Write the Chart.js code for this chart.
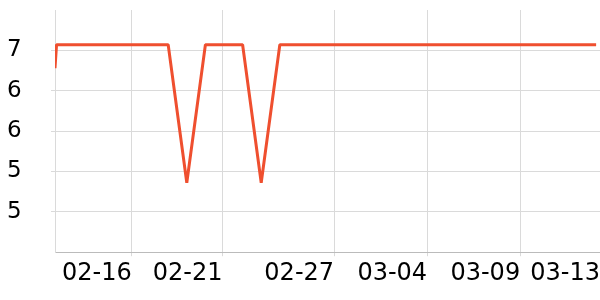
<!DOCTYPE html>
<html>
<head>
<meta charset="utf-8">
<script src="https://cdn.jsdelivr.net/npm/chart.js@4/dist/chart.umd.min.js"></script>
<style>
  html, body { margin: 0; padding: 0; background: #fff; }
  #wrap { width: 600px; height: 300px; }
</style>
</head>
<body>
<div id="wrap"><canvas id="rateChart"></canvas></div>
<script>
// timestamps of the samples (MM-DD HH:mm) and their values
const times = [
  '02-12 00:00', '02-12 02:00', '02-13 02:00', '02-14 02:00', '02-15 02:00',
  '02-16 02:00', '02-17 02:00', '02-18 02:00', '02-19 02:00', '02-20 02:00',
  '02-21 02:00', '02-22 02:00', '02-23 02:00', '02-24 02:00', '02-25 02:00',
  '02-26 02:00', '02-27 02:00', '02-28 02:00', '03-01 02:00', '03-02 02:00',
  '03-03 02:00', '03-04 02:00', '03-05 02:00', '03-06 02:00', '03-07 02:00',
  '03-08 02:00', '03-09 02:00', '03-10 02:00', '03-11 02:00', '03-12 02:00',
  '03-13 02:00'
];
const values = [
  6.78, 7.07, 7.07, 7.07, 7.07,
  7.07, 7.07, 7.07, 5.36, 7.07,
  7.07, 7.07, 5.36, 7.07, 7.07,
  7.07, 7.07, 7.07, 7.07, 7.07,
  7.07, 7.07, 7.07, 7.07, 7.07,
  7.07, 7.07, 7.07, 7.07, 7.07,
  7.07
];

// x axis ticks (the last one sits at the right end of the axis)
const xTickTimes = ['02-16 03:00', '02-21 00:00', '02-27 00:00', '03-04 00:00', '03-09 00:00', '03-13 07:00'];
const xStart = '02-12 00:00';
const xEnd = '03-13 07:00';

// y axis
const yTicks = [5, 5.5, 6, 6.5, 7];
const yMin = 4.5;
const yMax = 7.5;

// days since 02-12 00:00 (February has 28 days here)
function toDays(t) {
  const [md, hm] = t.split(' ');
  const [m, d] = md.split('-').map(Number);
  const [h, mi] = hm.split(':').map(Number);
  const day = (m === 3 ? 28 : 0) + d;
  return day - 12 + (h + mi / 60) / 24;
}

const points = times.map((t, i) => ({ x: toDays(t), y: values[i] }));
const xTickPos = xTickTimes.map(toDays);

new Chart(document.getElementById('rateChart').getContext('2d'), {
  type: 'line',
  data: {
    datasets: [{
      data: points,
      borderColor: '#ef4f2f',
      borderWidth: 3,
      borderJoinStyle: 'bevel',
      pointRadius: 0,
      tension: 0,
      fill: false
    }]
  },
  options: {
    responsive: true,
    maintainAspectRatio: false,
    animation: false,
    layout: { padding: { left: 7, top: 10, right: 0, bottom: 9 } },
    plugins: {
      legend: { display: false },
      tooltip: { enabled: false }
    },
    scales: {
      x: {
        type: 'linear',
        min: toDays(xStart),
        max: toDays(xEnd),
        afterBuildTicks: scale => {
          scale.ticks = xTickPos.map(v => ({ value: v }));
        },
        afterFit: scale => {
          scale.paddingLeft = 0;
          scale.paddingRight = 0;
        },
        grid: { color: '#dadada', tickLength: 4 },
        border: { color: '#bbbbbb' },
        ticks: {
          align: 'end',
          maxRotation: 0,
          autoSkip: false,
          color: '#000',
          font: { family: 'DejaVu Sans', size: 24 },
          callback: (value, index) => xTickTimes[index].slice(0, 5)
        }
      },
      y: {
        min: yMin,
        max: yMax,
        afterBuildTicks: scale => {
          scale.ticks = yTicks.map(v => ({ value: v }));
        },
        afterFit: scale => {
          scale.width = 48;
          scale.paddingTop = 0;
          scale.paddingBottom = 0;
        },
        grid: { color: '#dadada', tickLength: 4 },
        border: { color: '#dadada' },
        ticks: {
          crossAlign: 'far',
          color: '#000',
          font: { family: 'DejaVu Sans', size: 23 },
          callback: value => Math.floor(value)
        }
      }
    }
  }
});
</script>
</body>
</html>
